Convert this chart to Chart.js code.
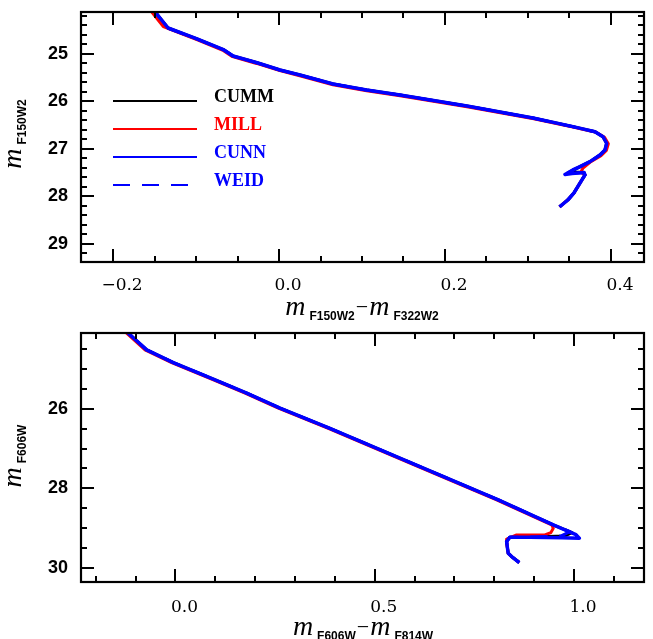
<!DOCTYPE html>
<html>
<head>
<meta charset="utf-8">
<script src="https://cdn.jsdelivr.net/npm/chart.js@4.4.1/dist/chart.umd.min.js"></script>
<style>
  html, body { margin: 0; padding: 0; background: #fff; }
  #wrap { position: relative; width: 653px; height: 639px; }
  canvas { position: absolute; left: 0; }
</style>
</head>
<body>
<div id="wrap">
  <canvas id="top" width="653" height="322" style="top:0px"></canvas>
  <canvas id="bot" width="653" height="317" style="top:322px"></canvas>
</div>
<script>
// ---- tick labels ----
const topXTicks = [-0.2, 0.0, 0.2, 0.4]
const topYTicks = [25, 26, 27, 28, 29]
const botXTicks = [0.0, 0.5, 1.0]
const botYTicks = [26, 28, 30]

const modelNames = ['CUMM', 'MILL', 'CUNN', 'WEID']

// ---- top panel: F150W2 - F322W2 vs F150W2 ----
const topCunnCol = [-0.156, -0.1337, -0.0988, -0.0663, -0.0554, -0.0265, 0.0012, 0.0253, 0.0651, 0.1056, 0.1458, 0.2265, 0.306, 0.3542, 0.3807, 0.3904, 0.3948, 0.3928, 0.3867, 0.3747, 0.3627, 0.354, 0.3446, 0.353, 0.3675, 0.3687, 0.3627, 0.3554, 0.348, 0.338]
const topCunnMag = [23.97, 24.453, 24.684, 24.915, 25.042, 25.185, 25.337, 25.442, 25.632, 25.758, 25.863, 26.095, 26.347, 26.53, 26.636, 26.741, 26.88, 27.021, 27.126, 27.267, 27.373, 27.442, 27.537, 27.516, 27.495, 27.547, 27.716, 27.926, 28.074, 28.221]

const topWeidCol = [-0.156, -0.1337, -0.0988, -0.0663, -0.0554, -0.0265, 0.0012, 0.0253, 0.0651, 0.1056, 0.1458, 0.2265, 0.306, 0.3542, 0.3807, 0.3904, 0.3948, 0.3928, 0.3867, 0.3747, 0.3627, 0.354, 0.3446, 0.353, 0.3675, 0.3687, 0.3627, 0.3554, 0.348, 0.338]
const topWeidMag = [23.97, 24.455, 24.686, 24.917, 25.044, 25.187, 25.339, 25.444, 25.634, 25.76, 25.865, 26.097, 26.349, 26.532, 26.638, 26.743, 26.882, 27.023, 27.128, 27.269, 27.375, 27.444, 27.535, 27.516, 27.495, 27.547, 27.716, 27.926, 28.074, 28.221]

const topMillCol = [-0.16, -0.1394, -0.099, -0.0668, -0.056, -0.027, 0.001, 0.025, 0.065, 0.1056, 0.1458, 0.2265, 0.307, 0.3555, 0.3822, 0.3922, 0.3968, 0.3945, 0.388, 0.3747, 0.3663, 0.3639, 0.3687, 0.3627, 0.3554, 0.348, 0.338]
const topMillMag = [23.97, 24.425, 24.698, 24.93, 25.056, 25.199, 25.351, 25.457, 25.647, 25.773, 25.878, 26.11, 26.362, 26.542, 26.647, 26.752, 26.89, 27.03, 27.14, 27.28, 27.4, 27.484, 27.547, 27.716, 27.926, 28.074, 28.221]

const topCummCol = [-0.156, -0.1337, -0.0988, -0.0663, -0.0554, -0.0265, 0.0012, 0.0253, 0.0651, 0.1056, 0.1458, 0.2265, 0.306, 0.3542, 0.3807, 0.3904, 0.3948, 0.3928, 0.3867, 0.3747, 0.3627, 0.351, 0.3675, 0.3687, 0.3627, 0.3554, 0.348, 0.338]
const topCummMag = [23.97, 24.453, 24.684, 24.915, 25.042, 25.185, 25.337, 25.442, 25.632, 25.758, 25.863, 26.095, 26.347, 26.53, 26.636, 26.741, 26.88, 27.021, 27.126, 27.267, 27.373, 27.48, 27.495, 27.547, 27.716, 27.926, 28.074, 28.221]

// ---- bottom panel: F606W - F814W vs F606W ----
const botCunnCol = [-0.142, -0.0723, -0.0055, 0.0949, 0.1787, 0.2622, 0.386, 0.5985, 0.81, 0.948, 1.005, 1.0133, 0.97, 0.89, 0.839, 0.831, 0.833, 0.835, 0.8437, 0.8627]
const botCunnMag = [23.88, 24.514, 24.834, 25.252, 25.605, 25.982, 26.486, 27.39, 28.292, 28.922, 29.166, 29.257, 29.245, 29.235, 29.232, 29.342, 29.5, 29.635, 29.72, 29.87]

const botWeidCol = [-0.142, -0.0723, -0.0055, 0.0949, 0.1787, 0.2622, 0.386, 0.5985, 0.81, 0.948, 0.99, 0.968, 0.89, 0.839, 0.831, 0.833, 0.835, 0.8437, 0.8627]
const botWeidMag = [23.88, 24.514, 24.834, 25.252, 25.605, 25.982, 26.486, 27.39, 28.292, 28.922, 29.09, 29.2, 29.23, 29.232, 29.342, 29.5, 29.635, 29.72, 29.87]

const botMillCol = [-0.146, -0.0763, -0.0095, 0.0909, 0.1747, 0.2582, 0.382, 0.5945, 0.806, 0.944, 0.948, 0.942, 0.927, 0.856, 0.831, 0.831, 0.833, 0.835, 0.8437, 0.8627]
const botMillMag = [23.88, 24.514, 24.834, 25.252, 25.605, 25.982, 26.486, 27.39, 28.292, 28.922, 29.005, 29.116, 29.174, 29.174, 29.28, 29.38, 29.5, 29.635, 29.72, 29.87]

const botCummCol = [-0.142, -0.0723, -0.0055, 0.0949, 0.1787, 0.2622, 0.386, 0.5985, 0.81, 0.948, 0.995, 0.977, 0.89, 0.839, 0.831, 0.833, 0.835, 0.8437, 0.8627]
const botCummMag = [23.88, 24.514, 24.834, 25.252, 25.605, 25.982, 26.486, 27.39, 28.292, 28.922, 29.116, 29.2, 29.225, 29.232, 29.342, 29.5, 29.635, 29.72, 29.87]

function pts(xs, ys){
    return xs.map((x, i) => ({x: x, y: ys[i]}))
}

function makeSets(cumm, mill, cunn, weid){
    const base = {showLine: true, pointRadius: 0, fill: false, tension: 0, clip: 0, borderJoinStyle: 'round', borderCapStyle: 'butt'}
    return [
        Object.assign({}, base, {label: modelNames[2], data: cunn, borderColor: '#0000ff', borderWidth: 3.5, order: 0}),
        Object.assign({}, base, {label: modelNames[3], data: weid, borderColor: '#0000ff', borderWidth: 3, borderDash: [17, 12], order: 1}),
        Object.assign({}, base, {label: modelNames[1], data: mill, borderColor: '#ff0000', borderWidth: 3, order: 2}),
        Object.assign({}, base, {label: modelNames[0], data: cumm, borderColor: '#000000', borderWidth: 3, order: 3})
    ]
}

function fmtX(v){
    return (v < 0 ? '\u2212' : '') + Math.abs(v).toFixed(1)
}

// inward ticks on all four sides plus the frame
const frameTicks = {
    id: 'frameTicks',
    afterDatasetsDraw(chart, args, opts){
        const ctx = chart.ctx
        const a = chart.chartArea
        const xs = chart.scales.x, ys = chart.scales.y
        ctx.save()
        ctx.strokeStyle = '#000'
        ctx.lineWidth = 2
        ctx.lineCap = 'butt'
        ctx.beginPath()
        function minors(s, step){
            const out = []
            for(let k = Math.ceil(s.min / step - 1e-6); k * step <= s.max + 1e-9; k++) out.push(k * step)
            return out
        }
        minors(xs, opts.xMinor).forEach(v => {
            const p = Math.round(xs.getPixelForValue(v))
            const isMajor = opts.xMajor.some(m => Math.abs(m - v) < 1e-6)
            const len = isMajor ? 13 : 6
            ctx.moveTo(p, a.bottom); ctx.lineTo(p, a.bottom - len)
            ctx.moveTo(p, a.top); ctx.lineTo(p, a.top + len)
        })
        minors(ys, opts.yMinor).forEach(v => {
            const p = Math.round(ys.getPixelForValue(v))
            const isMajor = opts.yMajor.some(m => Math.abs(m - v) < 1e-6)
            const len = isMajor ? 13 : 6
            ctx.moveTo(a.left, p); ctx.lineTo(a.left + len, p)
            ctx.moveTo(a.right, p); ctx.lineTo(a.right - len, p)
        })
        ctx.stroke()
        ctx.lineWidth = 2.2
        ctx.strokeRect(a.left, a.top, a.right - a.left, a.bottom - a.top)
        ctx.restore()
    }
}

// axis titles of the form  m_sub - m_sub
function titleParts(s1, s2){
    return [
        {t: 'm', f: 'italic 28px "Liberation Serif"', dy: 0},
        {t: s1, f: 'bold 12px "Liberation Sans"', dy: 5, pad: 4},
        {t: '\u2212', f: '22px "Liberation Serif"', dy: -1, pad: 1},
        {t: 'm', f: 'italic 28px "Liberation Serif"', dy: 0, pad: 1},
        {t: s2, f: 'bold 12px "Liberation Sans"', dy: 5, pad: 4}
    ]
}
function drawTitle(ctx, parts, cx, cy, rot){
    ctx.save()
    let w = 0
    parts.forEach(p => { ctx.font = p.f; p.w = ctx.measureText(p.t).width; w += p.w + (p.pad || 0) })
    ctx.translate(cx, cy)
    if(rot) ctx.rotate(-Math.PI / 2)
    ctx.fillStyle = '#000'
    ctx.textBaseline = 'alphabetic'
    let x = -w / 2
    parts.forEach(p => {
        x += (p.pad || 0)
        ctx.font = p.f
        ctx.fillText(p.t, x, p.dy)
        x += p.w
    })
    ctx.restore()
}
const titles = {
    id: 'titles',
    afterDraw(chart, args, opts){
        drawTitle(chart.ctx, titleParts(opts.xs1, opts.xs2), opts.xcx, opts.xcy, false)
        drawTitle(chart.ctx, titleParts(opts.ys, '').slice(0, 2), opts.ycx, opts.ycy, true)
    }
}

// legend: line sample then coloured name
const lineLegend = {
    id: 'lineLegend',
    afterDraw(chart, args, opts){
        if(!opts.show) return
        const ctx = chart.ctx
        const byName = {}
        chart.data.datasets.forEach(d => { byName[d.label] = d })
        ctx.save()
        modelNames.forEach((name, i) => {
            const d = byName[name]
            const y = opts.y0 + i * opts.dy
            ctx.strokeStyle = d.borderColor
            ctx.lineWidth = 2
            ctx.setLineDash(d.borderDash || [])
            ctx.beginPath()
            ctx.moveTo(opts.x0, y); ctx.lineTo(opts.x1, y)
            ctx.stroke()
            ctx.setLineDash([])
            ctx.fillStyle = d.borderColor
            ctx.font = 'bold 18px "Liberation Serif"'
            ctx.textBaseline = 'alphabetic'
            ctx.fillText(name, opts.tx, y + 1)
        })
        ctx.restore()
    }
}

function noPad(s){
    s.paddingTop = 0; s.paddingBottom = 0; s.paddingLeft = 0; s.paddingRight = 0
}

function makeChart(id, sets, cfg){
    return new Chart(document.getElementById(id), {
        type: 'scatter',
        data: {datasets: sets},
        plugins: [frameTicks, titles, lineLegend],
        options: {
            responsive: false,
            animation: false,
            events: [],
            layout: {autoPadding: false, padding: {left: 0, right: 9, top: cfg.padTop, bottom: 0}},
            plugins: {
                legend: {display: false},
                tooltip: {enabled: false},
                frameTicks: cfg.ticks,
                titles: cfg.titles,
                lineLegend: cfg.legend
            },
            scales: {
                x: {
                    type: 'linear', min: cfg.xmin, max: cfg.xmax,
                    grid: {display: false, drawTicks: false}, border: {display: false},
                    afterBuildTicks: s => { s.ticks = cfg.xTicks.map(v => ({value: v})) },
                    afterFit: s => { s.height = cfg.xh; noPad(s) },
                    ticks: {padding: cfg.xPad, labelOffset: 9, color: '#000', font: {family: '"DejaVu Serif"', size: 17}, callback: v => fmtX(v), maxRotation: 0, autoSkip: false}
                },
                y: {
                    type: 'linear', reverse: true, min: cfg.ymin, max: cfg.ymax,
                    grid: {display: false, drawTicks: false}, border: {display: false},
                    afterBuildTicks: s => { s.ticks = cfg.yTicks.map(v => ({value: v})) },
                    afterFit: s => { s.width = 81; noPad(s) },
                    ticks: {padding: 13, color: '#000', font: {family: '"Liberation Sans"', size: 18, weight: 'bold'}, callback: v => String(v), autoSkip: false}
                }
            }
        }
    })
}

makeChart('top',
    makeSets(pts(topCummCol, topCummMag), pts(topMillCol, topMillMag), pts(topCunnCol, topCunnMag), pts(topWeidCol, topWeidMag)),
    {
        padTop: 12, xh: 60, xPad: 13,
        xmin: -0.2386, xmax: 0.4398, ymin: 24.116, ymax: 29.38,
        xTicks: topXTicks, yTicks: topYTicks,
        ticks: {xMajor: topXTicks, yMajor: topYTicks, xMinor: 0.05, yMinor: 0.2},
        titles: {xs1: 'F150W2', xs2: 'F322W2', xcx: 362, xcy: 315, ys: 'F150W2', ycx: 21, ycy: 134},
        legend: {show: true, x0: 113, x1: 197, tx: 214, y0: 101, dy: 28}
    })

makeChart('bot',
    makeSets(pts(botCummCol, botCummMag), pts(botMillCol, botMillMag), pts(botCunnCol, botCunnMag), pts(botWeidCol, botWeidMag)),
    {
        padTop: 11, xh: 57, xPad: 15,
        xmin: -0.237, xmax: 1.1757, ymin: 24.09, ymax: 30.36,
        xTicks: botXTicks, yTicks: botYTicks,
        ticks: {xMajor: botXTicks, yMajor: botYTicks, xMinor: 0.1, yMinor: 0.5},
        titles: {xs1: 'F606W', xs2: 'F814W', xcx: 363, xcy: 313, ys: 'F606W', ycx: 21, ycy: 134},
        legend: {show: false}
    })
</script>
</body>
</html>
